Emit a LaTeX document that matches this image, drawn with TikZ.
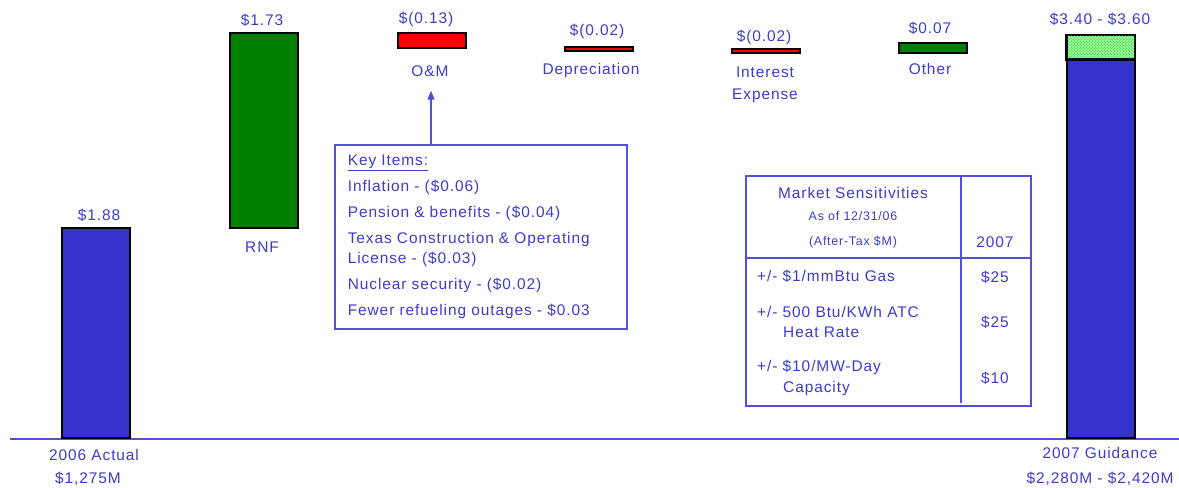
\documentclass[tikz,border=0pt]{standalone}
\usepackage{fontspec}
\setmainfont{Liberation Sans}[LetterSpace=6]
\usetikzlibrary{arrows.meta,patterns}
\definecolor{barblue}{RGB}{51,51,204}
\definecolor{bargreen}{RGB}{0,128,0}
\definecolor{barred}{RGB}{250,0,0}
\definecolor{lightgreen}{RGB}{140,255,140}
\definecolor{lineblue}{RGB}{80,80,220}
\definecolor{txtblue}{RGB}{60,60,205}
\tikzset{
  bar/.style={draw=black,line width=1.6bp,inner sep=0pt,anchor=south west,minimum width=68bp},
  lbl/.style={text=txtblue,font=\fontsize{15.5}{20}\selectfont,inner sep=0pt},
  small/.style={text=txtblue,font=\fontsize{12.5}{14}\selectfont,inner sep=0pt},
}
\begin{document}
\begin{tikzpicture}[x=1bp,y=-1bp]
    \useasboundingbox (0,0) rectangle (1179,488);

    % Axe
    \coordinate (axl) at (10,439);
    \coordinate (axr) at (1179,439);
    \draw[lineblue,line width=1.6bp] (axl) -- (axr);

    % Barres
    \node[bar,fill=barblue,minimum height=210bp] (act) at (61,439) {};
    \node[bar,fill=bargreen,minimum height=195bp] (rnf) at (229,229) {};
    \node[bar,fill=barred,minimum height=15bp] (om) at (397,49) {};
    \node[bar,fill=barred,minimum height=4bp] (dep) at (564,52) {};
    \node[bar,fill=barred,minimum height=4bp] (int) at (731,54) {};
    \node[bar,fill=bargreen,minimum height=10bp] (oth) at (898,54) {};
    \node[bar,fill=barblue,minimum height=379bp] (gui) at (1066,439) {};
    \node[bar,fill=lightgreen,minimum height=24bp] (rng) at (1066,60) {};
    \fill[pattern=crosshatch dots,pattern color=bargreen!70] (rng.south west) rectangle (rng.north east);
    \draw[black,line width=1.6bp] (rng.south west) rectangle (rng.north east);

    % Valeurs
    \node[lbl] (vact) at (99,215) {\$1.88};
    \node[lbl] (vrnf) at (262,20) {\$1.73};
    \node[lbl] (vom) at (426,19) {\$(0.13)};
    \node[lbl] (vdep) at (597,31) {\$(0.02)};
    \node[lbl] (vint) at (764,37) {\$(0.02)};
    \node[lbl] (voth) at (930,28) {\$0.07};
    \node[lbl] (vgui) at (1100,19) {\$3.40 - \$3.60};

    % Noms
    \node[lbl] (nrnf) at (262,247) {RNF};
    \node[lbl] (nom) at (430,71) {O\&M};
    \node[lbl] (ndep) at (591,71) {Depreciation};
    \node[lbl,align=center] (nint) at (765,85) {Interest\\[2bp]Expense};
    \node[lbl] (noth) at (930,69) {Other};
    \node[lbl] (nact) at (94,455) {2006 Actual};
    \node[lbl] (mact) at (88,479) {\$1,275M};
    \node[lbl] (ngui) at (1100,453) {2007 Guidance};
    \node[lbl] (mgui) at (1100,479) {\$2,280M - \$2,420M};

    % Key items
    \node[lbl,draw=lineblue,line width=1.6bp,anchor=north west,align=left,
          text width=266bp,inner xsep=13bp,minimum height=184bp] (key) at (334,144)
        {\underline{Key Items:}\\[6bp]
         Inflation - (\$0.06)\\[6bp]
         Pension \& benefits - (\$0.04)\\[6bp]
         Texas Construction \& Operating\\
         License - (\$0.03)\\[6bp]
         Nuclear security - (\$0.02)\\[6bp]
         Fewer refueling outages - \$0.03};
    \draw[lineblue,line width=1.6bp,-{Triangle[length=9bp,width=7bp]}]
        (key.north -| nom) ++(1,0) -- ([yshift=-14bp,xshift=1bp]nom.south);

    % Sensibilites
    \node[draw=lineblue,line width=1.6bp,anchor=north west,inner sep=0pt,
          minimum width=285bp,minimum height=230bp] (mkt) at (745,175) {};
    \coordinate (mtop) at (961,175);
    \coordinate (mbot) at (961,403);
    \coordinate (hl) at (745,258);
    \coordinate (hr) at (1030,258);
    \draw[lineblue,line width=1.6bp] (mtop) -- (mbot);
    \draw[lineblue,line width=1.6bp] (hl) -- (hr);
    \node[lbl] (h1) at (853,193) {Market Sensitivities};
    \node[small] (h2) at (853,216) {As of 12/31/06};
    \node[small] (h3) at (853,242) {(After-Tax \$M)};
    \node[lbl] (h4) at (995,242) {2007};
    \node[lbl,anchor=west] (r1) at (757,276) {+/- \$1/mmBtu Gas};
    \node[lbl,anchor=west,align=left] (r2) at (757,322) {+/- 500 Btu/KWh ATC\\[1bp]\hspace{26bp}Heat Rate};
    \node[lbl,anchor=west,align=left] (r3) at (757,378) {+/- \$10/MW-Day\\[1bp]\hspace{26bp}Capacity};
    \node[lbl] (c1) at (995,277) {\$25};
    \node[lbl] (c2) at (995,322) {\$25};
    \node[lbl] (c3) at (995,378) {\$10};
\end{tikzpicture}
\end{document}
